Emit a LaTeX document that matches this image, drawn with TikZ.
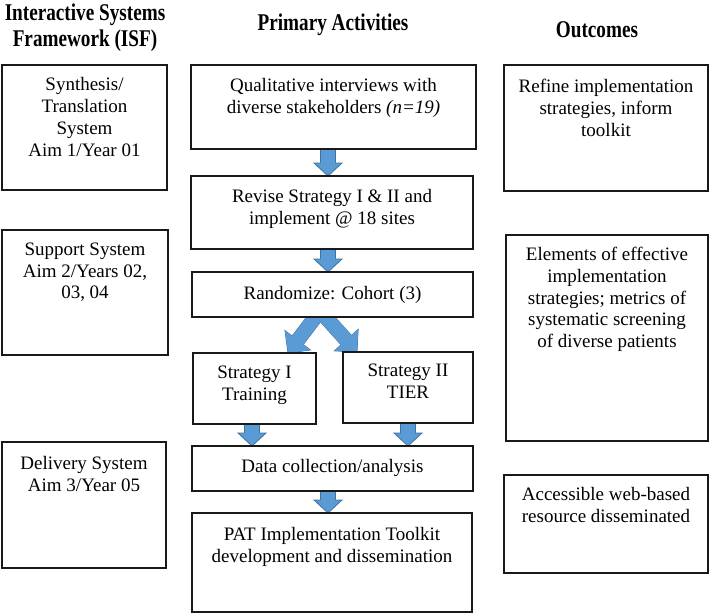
\documentclass[tikz,border=0pt]{standalone}
\usepackage{fontspec}
\setmainfont{Liberation Serif}
\usetikzlibrary{calc}
\definecolor{arrfill}{RGB}{91,155,213}
\definecolor{arrline}{RGB}{65,113,156}
\definecolor{boxline}{RGB}{25,25,25}
\pgfdeclarelayer{bg}
\pgfsetlayers{bg,main}
% block arrow from #1 to #2 (shaft half width #3, head half width #4, head length #5, style #6)
\newcommand\blockarr[6]{%
  \coordinate (ba-s) at (#1);
  \coordinate (ba-e) at (#2);
  \coordinate (ba-h) at ($(ba-e)!#5!(ba-s)$);
  \path[#6] ($(ba-s)!#3!90:(ba-e)$) -- ($(ba-h)!#3!90:(ba-e)$) -- ($(ba-h)!#4!90:(ba-e)$) -- (ba-e) -- ($(ba-h)!#4!-90:(ba-e)$) -- ($(ba-h)!#3!-90:(ba-e)$) -- ($(ba-s)!#3!-90:(ba-e)$) -- cycle;
}
\begin{document}
\begin{tikzpicture}[x=1pt,y=-1pt,
  box/.style={draw=boxline, fill=white, line width=1.6pt, inner sep=0pt, outer sep=0pt, anchor=north west},
  txt/.style={align=center, inner sep=0pt, anchor=north, font=\fontsize{19}{21.8}\selectfont},
  hdr/.style={inner sep=0pt, anchor=center, font=\bfseries\fontsize{19.2}{21}\selectfont},
  barrow/.style={fill=arrfill, draw=arrline, line width=0.8pt, line join=miter},
  bfill/.style={fill=arrfill}]
\useasboundingbox (0,0) rectangle (709,613);

% headers
\node[hdr] (h1) at (85,28) {\scalebox{1}[1.25]{\begin{tabular}{@{}c@{}}Interactive Systems\\Framework (ISF)\end{tabular}}};
\node[hdr] (h2) at (333,25) {\scalebox{1}[1.25]{\begin{tabular}{@{}c@{}}Primary Activities\end{tabular}}};
\node[hdr] (h3) at (597,32) {\scalebox{1}[1.25]{\begin{tabular}{@{}c@{}}Outcomes\end{tabular}}};

% center column boxes
\node[box, minimum width=285pt, minimum height=84pt] (C1) at (191,65) {};
\node[box, minimum width=282pt, minimum height=73pt] (C2) at (191,176) {};
\node[box, minimum width=281pt, minimum height=45pt] (C3) at (192,272) {};
\node[box, minimum width=123pt, minimum height=71pt] (S1) at (193,353) {};
\node[box, minimum width=130pt, minimum height=71pt] (S2) at (343,352) {};
\node[box, minimum width=281pt, minimum height=45pt] (D) at (192,446) {};
\node[box, minimum width=280pt, minimum height=99pt] (P) at (192,513) {};

% side boxes
\node[box, minimum width=165pt, minimum height=125pt] (L1) at (2,65) {};
\node[box, minimum width=166pt, minimum height=125pt] (L2) at (2,230) {};
\node[box, minimum width=164pt, minimum height=126pt] (L3) at (2,442) {};
\node[box, minimum width=204pt, minimum height=126pt] (R1) at (504,65) {};
\node[box, minimum width=202pt, minimum height=206pt] (R2) at (506,235) {};
\node[box, minimum width=204pt, minimum height=98pt] (R3) at (504,475) {};

% texts
\node[txt] (L1t) at ([yshift=-12.5pt]L1.north) {Synthesis/\\Translation\\System\\Aim 1/Year 01};
\node[txt] (L2t) at ([yshift=-12.5pt]L2.north) {Support System\\Aim 2/Years 02,\\03, 04};
\node[txt] (L3t) at ([yshift=-14pt]L3.north) {Delivery System\\Aim 3/Year 05};
\node[txt] (C1t) at ([yshift=-13pt]C1.north) {Qualitative interviews with\\diverse stakeholders \textit{(n=19)}};
\node[txt] (C2t) at ([yshift=-13.5pt]C2.north) {Revise Strategy I \& II and\\implement @ 18 sites};
\node[txt] (C3t) at ([yshift=-14pt]C3.north) {Randomize: Cohort (3)};
\node[txt] (S1t) at ([yshift=-13pt]S1.north) {Strategy I\\Training};
\node[txt] (S2t) at ([yshift=-12pt]S2.north) {Strategy II\\TIER};
\node[txt] (Dt) at ([yshift=-13pt]D.north) {Data collection/analysis};
\node[txt] (Pt) at ([yshift=-14pt]P.north) {PAT Implementation Toolkit\\development and dissemination};
\node[txt] (R1t) at ([yshift=-14pt]R1.north) {Refine implementation\\strategies, inform\\toolkit};
\node[txt] (R2t) at ([yshift=-12pt]R2.north) {Elements of effective\\implementation\\strategies; metrics of\\systematic screening\\of diverse patients};
\node[txt] (R3t) at ([yshift=-12pt]R3.north) {Accessible web-based\\resource disseminated};

% arrow anchor coordinates
\coordinate (a1) at ([xshift=-5.5pt]C1.south);
\coordinate (a2) at ([xshift=-4pt]C2.south);
\coordinate (a3) at ([xshift=-2.5pt]S1.south);
\coordinate (a4) at (S2.south);
\coordinate (a5) at ([xshift=-4.5pt]D.south);
\coordinate (ap) at ([xshift=-12.5pt,yshift=6pt]C3.south);
\coordinate (tl) at ([xshift=-28pt]S1.north east);
\coordinate (tr) at ([xshift=14pt]S2.north west);
\coordinate (apl) at ($(ap)!-7pt!(tl)$);
\coordinate (apr) at ($(ap)!-7pt!(tr)$);

\begin{pgfonlayer}{bg}
% straight block arrows
\blockarr{a1}{a1 |- C2.north}{7.5pt}{14pt}{13pt}{barrow}
\blockarr{a2}{a2 |- C3.north}{7.5pt}{14pt}{13pt}{barrow}
\blockarr{a3}{a3 |- D.north}{7.5pt}{14pt}{13pt}{barrow}
\blockarr{a4}{a4 |- D.north}{7.5pt}{14pt}{13pt}{barrow}
\blockarr{a5}{a5 |- P.north}{7.5pt}{14pt}{13pt}{barrow}
% split chevron arrow
\blockarr{apl}{tl}{7pt}{16pt}{16pt}{barrow}
\blockarr{apr}{tr}{7pt}{16pt}{16pt}{barrow}
\blockarr{apl}{tl}{7pt}{16pt}{16pt}{bfill}
\blockarr{apr}{tr}{7pt}{16pt}{16pt}{bfill}
\end{pgfonlayer}
\end{tikzpicture}
\end{document}
